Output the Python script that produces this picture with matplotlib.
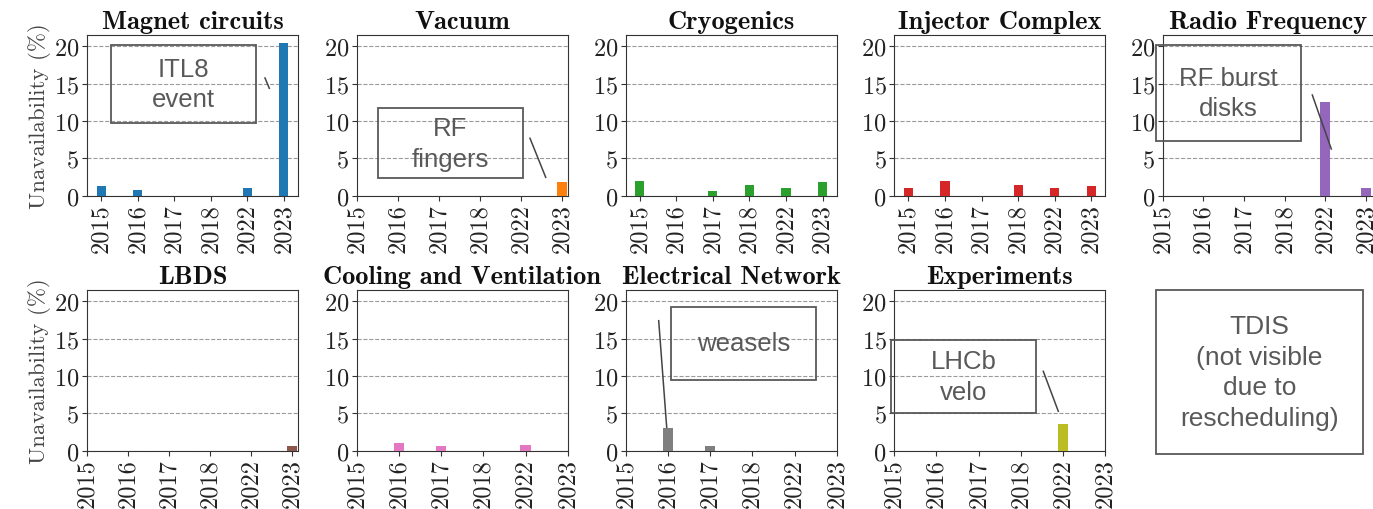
import matplotlib
matplotlib.use("Agg")
import matplotlib.pyplot as plt
from matplotlib.patches import Rectangle
from matplotlib.lines import Line2D

# unavailability (%) per system and year, 0 = no entry
years = ["2015", "2016", "2017", "2018", "2022", "2023"]
systems = ["Magnet circuits", "Vacuum", "Cryogenics", "Injector Complex",
           "Radio Frequency", "LBDS", "Cooling and Ventilation",
           "Electrical Network", "Experiments"]
magnet = [1.25, 0.8, 0, 0, 0.95, 20.5]
vacuum = [0, 0, 0, 0, 0, 1.75]
cryo = [2.0, 0, 0.67, 1.43, 0.94, 1.8]
injector = [0.94, 2.0, 0, 1.43, 0.94, 1.25]
rf = [0, 0, 0, 0, 12.5, 0.94]
lbds = [0, 0, 0, 0, 0, 0.58]
cooling = [0, 1.03, 0.54, 0, 0.76, 0]
electrical = [0, 3.04, 0.63, 0, 0, 0]
experiments = [0, 0, 0, 0, 3.5, 0]
values = [magnet, vacuum, cryo, injector, rf, lbds, cooling, electrical, experiments]
yticks = [0, 5, 10, 15, 20]

plt.rcParams["axes.formatter.use_mathtext"] = True
plt.rcParams["mathtext.fontset"] = "cm"

W, H = 1373, 510
fig = plt.figure(figsize=(W / 100, H / 100), dpi=100)

# axes placement in pixels (left, top, width, height)
col_left = [87, 356.7, 625.7, 894.3, 1162.7]
row_top = [36, 291]
ax_w, ax_h = 211, 160.5

axes = []
for i, (name, vals) in enumerate(zip(systems, values)):
    r, c = divmod(i, 5)
    rect = [col_left[c] / W, 1 - (row_top[r] + ax_h) / H, ax_w / W, ax_h / H]
    ax = fig.add_axes(rect, sharey=axes[0] if axes else None)
    axes.append(ax)
    xs = [k for k, v in enumerate(vals) if v > 0]
    ax.bar(xs, [vals[k] for k in xs], width=0.25, color=f"C{i}", zorder=3)
    ax.set_xticks(range(len(years)))
    ax.set_xticklabels(years, rotation=90, fontfamily="cmr10", fontsize=17, color="#222222")
    ax.set_title(name, fontfamily="cmb10", fontsize=19, color="#111111", pad=5)
    ax.yaxis.grid(True, linestyle="--", color="#9a9a9a", linewidth=0.8)
    ax.set_axisbelow(True)
    for sp in ax.spines.values():
        sp.set_color("#333333")
    ax.tick_params(colors="#333333", labelsize=17.5, labelcolor="#222222", pad=2)
    if c == 0:
        ax.set_ylabel("Unavailability (%)", fontfamily="cmr10", fontsize=16.5,
                      color="#444444", labelpad=2)

axes[0].set_yticks(yticks)
for ax in axes:
    ax.tick_params(axis="y", labelleft=True)
    for lab in ax.get_yticklabels():
        lab.set_fontfamily("cmr10")

# annotation boxes (added on top of the figure, pixel coordinates)
box_col = "#595959"


def box(x0, y0, x1, y1, text, size=18.5):
    fig.add_artist(Rectangle((x0 / W, 1 - y1 / H), (x1 - x0) / W, (y1 - y0) / H,
                             transform=fig.transFigure, fill=False,
                             edgecolor=box_col, linewidth=1.3))
    fig.text((x0 + x1) / 2 / W, 1 - (y0 + y1) / 2 / H, text, ha="center", va="center",
             fontfamily="Liberation Sans", fontsize=size, color=box_col, linespacing=1.35)


def pointer(x0, y0, x1, y1):
    fig.add_artist(Line2D([x0 / W, x1 / W], [1 - y0 / H, 1 - y1 / H],
                          transform=fig.transFigure, color="#444444", linewidth=1.1))


box(111, 45.7, 256, 124.3, "ITL8\nevent")
pointer(265, 79, 269.3, 89.3)
box(377.7, 109.3, 522.7, 179.3, "RF\nfingers")
pointer(530, 139.3, 545.7, 178.3)
box(1155.7, 45.7, 1300.7, 142.3, "RF burst\ndisks")
pointer(1312.3, 96, 1331.3, 150)
box(671, 307.7, 816.3, 381, "weasels")
pointer(658.7, 321.7, 666.7, 428.3)
box(891, 341, 1035.7, 414, "LHCb\nvelo")
pointer(1043.3, 372.3, 1058.3, 412.3)
box(1155.7, 290.7, 1363.3, 455.3, "TDIS\n(not visible\ndue to\nrescheduling)", size=19)

fig.savefig("out.png", dpi=100)
